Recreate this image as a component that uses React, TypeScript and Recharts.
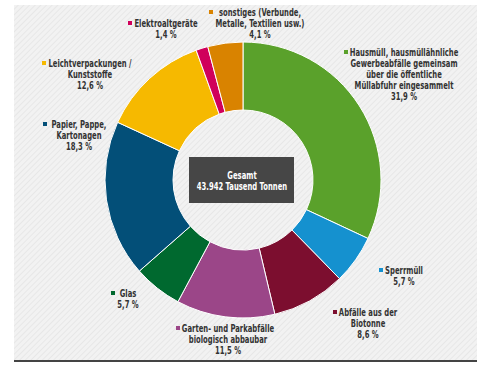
import { Cell, Pie, PieChart } from "recharts";

// Zusammensetzung Haushaltsabfälle (Anteile in %)
const categories = [
  "Hausmüll",
  "Sperrmüll",
  "Biotonne",
  "Garten",
  "Glas",
  "Papier",
  "Leichtverpackungen",
  "Elektroaltgeräte",
  "sonstiges",
];
const shares = [31.9, 5.7, 8.6, 11.5, 5.7, 18.3, 12.6, 1.4, 4.1];
const labelLines = [
  ["Hausmüll, hausmüllähnliche", "Gewerbeabfälle gemeinsam", "über die öffentliche", "Müllabfuhr eingesammelt"],
  ["Sperrmüll"],
  ["Abfälle aus der", "Biotonne"],
  ["Garten- und Parkabfälle", "biologisch abbaubar"],
  ["Glas"],
  ["Papier, Pappe,", "Kartonagen"],
  ["Leichtverpackungen /", "Kunststoffe"],
  ["Elektroaltgeräte"],
  ["sonstiges (Verbunde,", "Metalle, Textilien usw.)"],
];
const colors = ["#5aa12b", "#1591cf", "#7c0e2f", "#9b4688", "#00692f", "#034f78", "#f6b900", "#d0005b", "#d98300"];

const totalLines = ["Gesamt", "43.942 Tausend Tonnen"];

// label placement relative to pie centre: [square x, text centre x, first baseline y]
const labelPos: [number, number, number][] = [
  [101, 161, -124],
  [136, 161, 94],
  [90, 125, 136],
  [-67, -15, 152],
  [-132, -115, 117],
  [-200, -164, -52],
  [-201, -153, -113],
  [-115, -77, -153],
  [-34, 17, -164],
];

const data = categories.map((name, i) => ({ name, value: shares[i] }));

const fmt = (v: number) => `${v.toFixed(1).replace(".", ",")} %`;
const FONT = "'DejaVu Sans Condensed', 'DejaVu Sans', sans-serif";
const SX = 0.76; // horizontal squeeze to mimic the narrow typeface

const W = 490;
const H = 368;
const CX = 243;
const CY = 180;

function Txt({ x, y, children, fill = "#333" }: { x: number; y: number; children: string; fill?: string }) {
  return (
    <g transform={`translate(${x},${y}) scale(${SX},1)`}>
      <text x={0} y={0} textAnchor="middle" fontSize={10} fontWeight="bold" fontFamily={FONT} fill={fill}>
        {children}
      </text>
    </g>
  );
}

function renderLabel(props: any) {
  const { index, cx, cy } = props;
  const [sx, tx, ty] = labelPos[index];
  const lines = [...labelLines[index], fmt(shares[index])];
  return (
    <g key={`lbl-${index}`}>
      <rect x={cx + sx} y={cy + ty - 6} width={4} height={4} fill={colors[index]} />
      {lines.map((t, j) => (
        <Txt key={j} x={cx + tx} y={cy + ty + j * 11}>
          {t}
        </Txt>
      ))}
    </g>
  );
}

export default function App() {
  return (
    <div style={{ position: "fixed", left: 0, top: 0, width: W, height: H, background: "#fff" }}>
      <svg width={W} height={H} style={{ position: "absolute", left: 0, top: 0 }}>
        <defs>
          <pattern id="hatch" width="4" height="4" patternUnits="userSpaceOnUse" patternTransform="rotate(45)">
            <rect width="4" height="4" fill="#f2f2f2" />
            <line x1="0" y1="0" x2="0" y2="4" stroke="#e4e4e4" strokeWidth="1.5" />
          </pattern>
        </defs>
        <rect x={14} y={5} width={463} height={355} fill="url(#hatch)" />
        <rect x={14} y={360} width={463} height={2} fill="#444" />
      </svg>
      <div style={{ position: "absolute", left: 0, top: 0 }}>
        <PieChart width={W} height={H} margin={{ top: 0, right: 0, bottom: 0, left: 0 }}>
          <Pie
            data={data}
            dataKey="value"
            nameKey="name"
            cx={CX}
            cy={CY}
            innerRadius={70}
            outerRadius={138}
            startAngle={90}
            endAngle={-270}
            stroke="#fff"
            strokeWidth={1}
            label={renderLabel}
            labelLine={false}
            isAnimationActive={false}
          >
            {data.map((d, i) => (
              <Cell key={d.name} fill={colors[i]} />
            ))}
          </Pie>
        </PieChart>
      </div>
      <svg width={W} height={H} style={{ position: "absolute", left: 0, top: 0 }}>
        <rect x={189} y={157} width={105} height={46} fill="#464646" />
        {totalLines.map((t, j) => (
          <Txt key={t} x={242} y={179 + j * 11} fill="#fff">
            {t}
          </Txt>
        ))}
      </svg>
    </div>
  );
}
